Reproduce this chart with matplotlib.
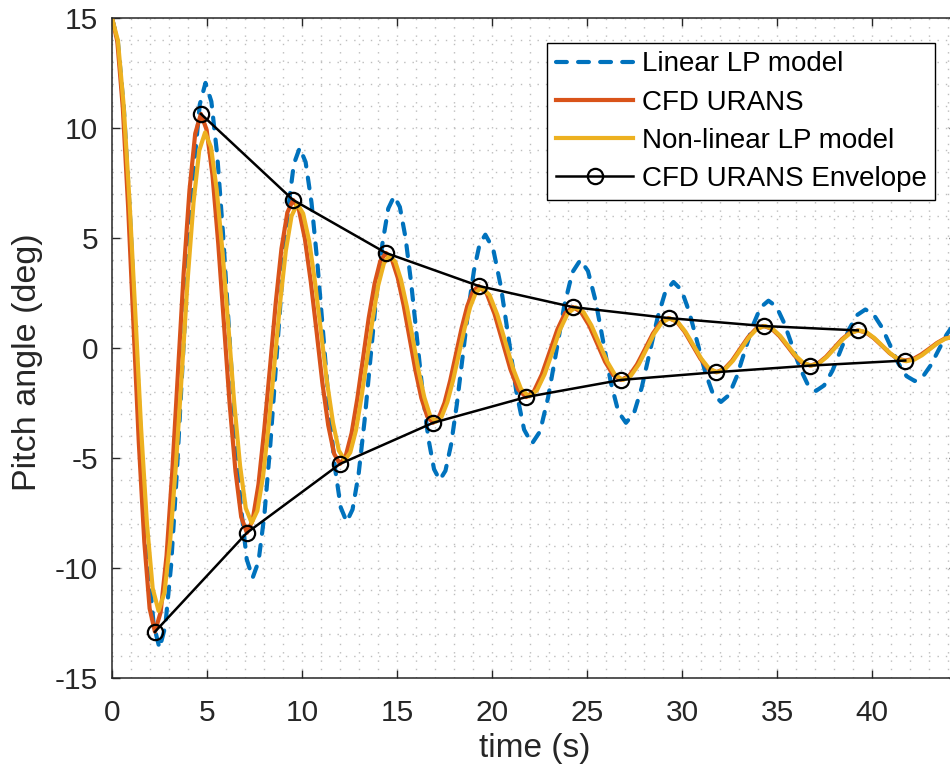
import matplotlib
matplotlib.use("Agg")
import matplotlib.pyplot as plt
from matplotlib.ticker import MultipleLocator

# values
t_lin = [0.00, 0.31, 0.63, 0.94, 1.25, 1.56, 1.88, 2.19, 2.50,
         2.80, 3.11, 3.41, 3.71, 4.01, 4.32, 4.62, 4.92,
         5.23, 5.54, 5.85, 6.16, 6.47, 6.78, 7.09, 7.40,
         7.71, 8.02, 8.33, 8.64, 8.95, 9.26, 9.57, 9.88,
         10.19, 10.50, 10.81, 11.12, 11.42, 11.73, 12.04, 12.35,
         12.66, 12.98, 13.29, 13.60, 13.91, 14.23, 14.54, 14.85,
         15.15, 15.45, 15.75, 16.05, 16.35, 16.65, 16.95, 17.25,
         17.55, 17.85, 18.15, 18.45, 18.75, 19.05, 19.35, 19.65,
         20.06, 20.47, 20.88, 21.28, 21.69, 22.10,
         22.53, 22.95, 23.38, 23.80, 24.23, 24.65,
         25.05, 25.45, 25.85, 26.25, 26.65, 27.05,
         27.47, 27.88, 28.30, 28.72, 29.13, 29.55,
         29.97, 30.38, 30.80, 31.22, 31.63, 32.05,
         32.47, 32.88, 33.30, 33.72, 34.13, 34.55,
         34.97, 35.38, 35.80, 36.22, 36.63, 37.05,
         37.48, 37.92, 38.35, 38.78, 39.22, 39.65,
         40.08, 40.52, 40.95, 41.38, 41.82, 42.25,
         42.67, 43.08, 43.50, 43.92, 44.33, 44.75]
y_lin = [15.00, 13.91, 10.80, 6.16, 0.68, -4.81, -9.45, -12.56, -13.65,
         -12.67, -9.88, -5.72, -0.80, 4.12, 8.28, 11.07, 12.05,
         11.20, 8.75, 5.11, 0.80, -3.51, -7.15, -9.60, -10.45,
         -9.71, -7.59, -4.42, -0.68, 3.07, 6.24, 8.36, 9.10,
         8.45, 6.61, 3.86, 0.60, -2.66, -5.41, -7.25, -7.90,
         -7.34, -5.73, -3.33, -0.50, 2.33, 4.73, 6.34, 6.90,
         6.41, 5.01, 2.92, 0.45, -2.02, -4.11, -5.51, -6.00,
         -5.58, -4.37, -2.56, -0.43, 1.71, 3.52, 4.73, 5.15,
         4.51, 2.78, 0.40, -1.98, -3.71, -4.35,
         -3.79, -2.26, -0.18, 1.91, 3.44, 4.00,
         3.50, 2.15, 0.30, -1.55, -2.90, -3.40,
         -2.97, -1.80, -0.20, 1.40, 2.57, 3.00,
         2.64, 1.64, 0.28, -1.09, -2.09, -2.45,
         -2.14, -1.30, -0.15, 1.00, 1.84, 2.15,
         1.88, 1.13, 0.10, -0.93, -1.68, -1.95,
         -1.70, -1.03, -0.10, 0.83, 1.50, 1.75,
         1.53, 0.94, 0.13, -0.69, -1.28, -1.50,
         -1.31, -0.80, -0.10, 0.60, 1.11, 1.30]

t_cfd = [0.00, 0.28, 0.57, 0.85, 1.13, 1.41, 1.70, 1.98, 2.26,
         2.56, 2.87, 3.17, 3.47, 3.77, 4.08, 4.38, 4.68,
         4.98, 5.29, 5.59, 5.89, 6.19, 6.50, 6.80, 7.10,
         7.40, 7.71, 8.01, 8.32, 8.62, 8.92, 9.23, 9.53,
         9.84, 10.15, 10.46, 10.77, 11.07, 11.38, 11.69, 12.00,
         12.30, 12.61, 12.91, 13.21, 13.51, 13.82, 14.12, 14.42,
         14.73, 15.04, 15.35, 15.66, 15.97, 16.28, 16.59, 16.90,
         17.20, 17.50, 17.80, 18.10, 18.40, 18.70, 19.00, 19.30,
         19.72, 20.13, 20.55, 20.97, 21.38, 21.80,
         22.21, 22.62, 23.03, 23.44, 23.85, 24.26,
         24.68, 25.11, 25.53, 25.95, 26.38, 26.80,
         27.22, 27.63, 28.05, 28.47, 28.88, 29.30,
         29.72, 30.13, 30.55, 30.97, 31.38, 31.80,
         32.22, 32.63, 33.05, 33.47, 33.88, 34.30,
         34.71, 35.12, 35.53, 35.93, 36.34, 36.75,
         37.17, 37.58, 38.00, 38.42, 38.83, 39.25,
         39.67, 40.08, 40.50, 40.92, 41.33, 41.75,
         42.17, 42.58, 43.00, 43.42, 43.83, 44.25]
y_cfd = [15.00, 13.94, 10.91, 6.39, 1.05, -4.29, -8.81, -11.84, -12.90,
         -12.01, -9.45, -5.64, -1.13, 3.38, 7.19, 9.75, 10.64,
         9.92, 7.85, 4.77, 1.12, -2.53, -5.61, -7.68, -8.40,
         -7.83, -6.19, -3.74, -0.84, 2.07, 4.52, 6.16, 6.73,
         6.27, 4.97, 3.03, 0.73, -1.57, -3.51, -4.81, -5.27,
         -4.91, -3.87, -2.31, -0.48, 1.36, 2.92, 3.95, 4.32,
         4.03, 3.19, 1.94, 0.46, -1.02, -2.27, -3.11, -3.40,
         -3.16, -2.49, -1.48, -0.29, 0.90, 1.91, 2.58, 2.82,
         2.48, 1.56, 0.30, -0.97, -1.89, -2.23,
         -1.96, -1.21, -0.19, 0.84, 1.59, 1.86,
         1.64, 1.03, 0.21, -0.62, -1.23, -1.45,
         -1.26, -0.75, -0.05, 0.66, 1.17, 1.36,
         1.20, 0.75, 0.13, -0.49, -0.94, -1.10,
         -0.96, -0.58, -0.05, 0.48, 0.86, 1.00,
         0.88, 0.55, 0.10, -0.35, -0.68, -0.80,
         -0.69, -0.40, 0.00, 0.40, 0.69, 0.80,
         0.71, 0.46, 0.12, -0.23, -0.48, -0.57,
         -0.50, -0.30, -0.04, 0.23, 0.43, 0.50]

t_nl = [0.00, 0.31, 0.61, 0.92, 1.23, 1.53, 1.84, 2.14, 2.45,
        2.76, 3.06, 3.37, 3.68, 3.98, 4.29, 4.59, 4.90,
        5.21, 5.51, 5.82, 6.13, 6.43, 6.74, 7.04, 7.35,
        7.65, 7.95, 8.25, 8.55, 8.85, 9.15, 9.45, 9.75,
        10.06, 10.38, 10.69, 11.00, 11.31, 11.63, 11.94, 12.25,
        12.54, 12.84, 13.13, 13.43, 13.72, 14.01, 14.31, 14.60,
        14.91, 15.21, 15.52, 15.83, 16.13, 16.44, 16.74, 17.05,
        17.35, 17.65, 17.95, 18.25, 18.55, 18.85, 19.15, 19.45,
        19.87, 20.28, 20.70, 21.12, 21.53, 21.95,
        22.36, 22.77, 23.18, 23.58, 23.99, 24.40,
        24.82, 25.23, 25.65, 26.07, 26.48, 26.90,
        27.31, 27.72, 28.13, 28.53, 28.94, 29.35,
        29.77, 30.18, 30.60, 31.02, 31.43, 31.85,
        32.27, 32.68, 33.10, 33.52, 33.93, 34.35,
        34.76, 35.17, 35.58, 35.98, 36.39, 36.80,
        37.22, 37.63, 38.05, 38.47, 38.88, 39.30,
        39.72, 40.13, 40.55, 40.97, 41.38, 41.80,
        42.22, 42.63, 43.05, 43.47, 43.88, 44.30]
y_nl = [15.00, 13.98, 11.06, 6.69, 1.53, -3.64, -8.00, -10.92, -11.95,
        -11.13, -8.77, -5.24, -1.08, 3.09, 6.61, 8.97, 9.80,
        9.13, 7.20, 4.33, 0.93, -2.47, -5.35, -7.28, -7.95,
        -7.40, -5.83, -3.48, -0.70, 2.08, 4.43, 6.00, 6.55,
        6.11, 4.85, 2.96, 0.73, -1.51, -3.39, -4.66, -5.10,
        -4.75, -3.74, -2.23, -0.45, 1.33, 2.84, 3.85, 4.20,
        3.92, 3.10, 1.87, 0.43, -1.02, -2.25, -3.07, -3.35,
        -3.12, -2.46, -1.47, -0.30, 0.87, 1.86, 2.52, 2.75,
        2.41, 1.51, 0.28, -0.96, -1.87, -2.20,
        -1.93, -1.19, -0.18, 0.84, 1.58, 1.85,
        1.63, 1.03, 0.20, -0.63, -1.23, -1.45,
        -1.26, -0.75, -0.05, 0.65, 1.16, 1.35,
        1.19, 0.74, 0.13, -0.49, -0.94, -1.10,
        -0.96, -0.58, -0.05, 0.48, 0.86, 1.00,
        0.88, 0.55, 0.10, -0.35, -0.68, -0.80,
        -0.69, -0.40, 0.00, 0.40, 0.69, 0.80,
        0.71, 0.45, 0.10, -0.25, -0.51, -0.60,
        -0.53, -0.33, -0.05, 0.23, 0.43, 0.50]

# CFD URANS envelope (peaks and troughs)
env_up_t = [4.68, 9.53, 14.42, 19.30, 24.26, 29.30, 34.30, 39.25]
env_up_y = [10.64, 6.73, 4.32, 2.82, 1.86, 1.36, 1.00, 0.80]
env_lo_t = [2.26, 7.10, 12.00, 16.90, 21.80, 26.80, 31.80, 36.75, 41.75]
env_lo_y = [-12.90, -8.40, -5.27, -3.40, -2.23, -1.45, -1.10, -0.80, -0.57]

plt.rcParams["font.family"] = ["Liberation Sans", "DejaVu Sans"]
plt.rcParams["axes.unicode_minus"] = False
text_col = "#262626"

fig = plt.figure(figsize=(9.5, 7.78), dpi=100)
# axes runs a bit past the right edge of the picture, like the original
ax = fig.add_axes([112 / 950, 100 / 778, 845.5 / 950, 660 / 778])

ax.plot(t_lin, y_lin, color="#0072BD", lw=3.0, dashes=(2.6, 2.7),
        dash_capstyle="round", label="Linear LP model")
ax.plot(t_cfd, y_cfd, color="#D95319", lw=3.0, solid_joinstyle="round",
        label="CFD URANS")
ax.plot(t_nl, y_nl, color="#EDB120", lw=3.0, solid_joinstyle="round",
        label="Non-linear LP model")
ax.plot(env_up_t, env_up_y, color="black", lw=1.8, marker="o", ms=11,
        mfc="none", mew=1.6, label="CFD URANS Envelope")
ax.plot(env_lo_t, env_lo_y, color="black", lw=1.8, marker="o", ms=11,
        mfc="none", mew=1.6)

ax.set_xlim(0, 44.5)
ax.set_ylim(-15, 15)
ax.set_xticks(range(0, 45, 5))
ax.set_yticks(range(-15, 16, 5))
ax.xaxis.set_minor_locator(MultipleLocator(1))
ax.yaxis.set_minor_locator(MultipleLocator(1))
ax.grid(which="both", linestyle=(0, (1, 5)), color="#bdbdbd", linewidth=1.0)
ax.set_axisbelow(True)

ax.tick_params(which="major", direction="in", length=6, width=1.0,
               top=True, right=True, labelsize=21.5, colors=text_col)
ax.tick_params(which="minor", length=0, top=True, right=True)
ax.tick_params(axis="x", pad=15)
ax.tick_params(axis="y", pad=10)
for s in ax.spines.values():
    s.set_color(text_col)
    s.set_linewidth(1.1)

ax.set_xlabel("time (s)", fontsize=24, color=text_col)
ax.set_ylabel("Pitch angle (deg)", fontsize=24.5, color=text_col)
ax.xaxis.set_label_coords(0.5, -0.083)
ax.yaxis.set_label_coords(-0.082, 0.479)

leg = ax.legend(loc="upper right", bbox_to_anchor=(935 / 950, 1 - 43 / 778),
                bbox_transform=fig.transFigure, borderaxespad=0, fontsize=20,
                handlelength=2.8, handletextpad=0.3, labelspacing=0.44,
                borderpad=0.3, numpoints=1, fancybox=False, framealpha=1)
leg.get_frame().set_edgecolor("black")
leg.get_frame().set_linewidth(1.0)

fig.savefig("out.png", dpi=100)
